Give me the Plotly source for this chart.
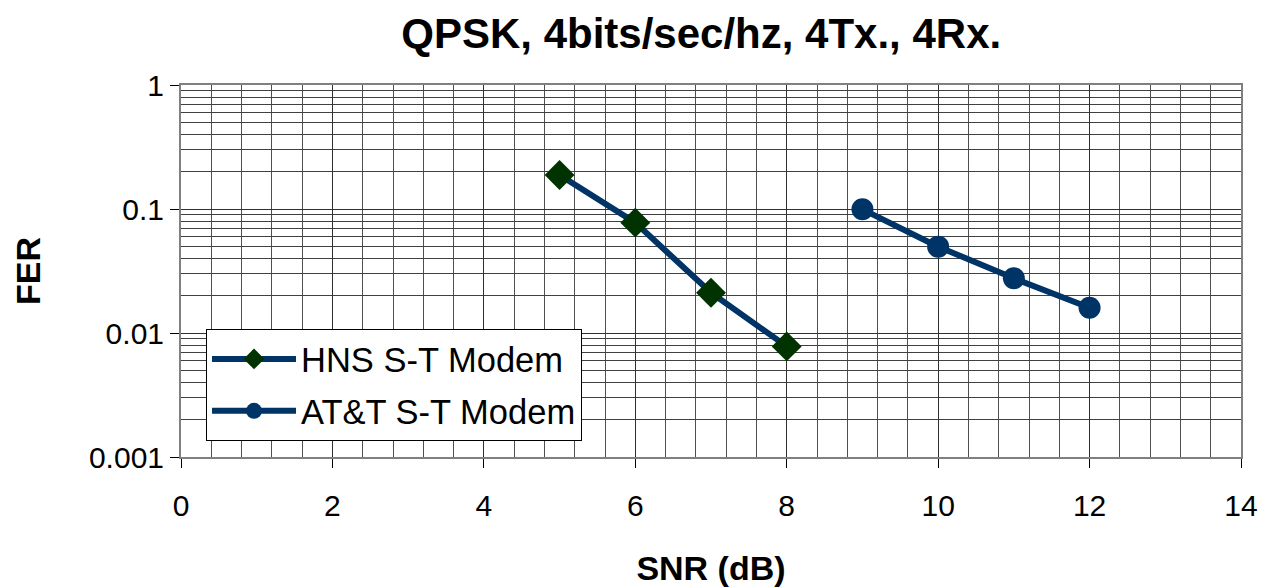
import plotly.graph_objects as go

hns_snr = [5, 6, 7, 8]
hns_fer = [0.188, 0.0776, 0.0211, 0.0078]
att_snr = [9, 10, 11, 12]
att_fer = [0.0994, 0.0497, 0.0276, 0.016]

x_ticks = [0, 2, 4, 6, 8, 10, 12, 14]
y_ticks = [1, 0.1, 0.01, 0.001]
y_tick_labels = ["1", "0.1", "0.01", "0.001"]

FONT = "Liberation Sans, Arial, sans-serif"
LINE = "#003366"

fig = go.Figure()
fig.add_trace(go.Scatter(
    x=hns_snr, y=hns_fer, mode="lines+markers", name="HNS S-T Modem",
    legendgroup="a",
    line=dict(color=LINE, width=6),
    marker=dict(symbol="diamond", size=23, color="#003300"),
))
fig.add_trace(go.Scatter(
    x=att_snr, y=att_fer, mode="lines+markers", name="AT&T S-T Modem",
    legendgroup="b",
    line=dict(color=LINE, width=6),
    marker=dict(symbol="circle", size=22, color="#003366"),
))

fig.update_layout(
    width=1265, height=580,
    margin=dict(l=173, r=32, t=77, b=131),
    paper_bgcolor="white", plot_bgcolor="white",
    font=dict(family=FONT, size=30, color="black"),
    title=dict(text="<b>QPSK, 4bits/sec/hz, 4Tx., 4Rx.</b>", x=0.548, xanchor="center",
               y=0.957, yanchor="middle", font=dict(size=42)),
    showlegend=True,
    legend=dict(x=0.0236, y=0.344, xanchor="left", yanchor="top",
                bgcolor="white", bordercolor="black", borderwidth=1,
                font=dict(size=34.5), itemwidth=84, tracegroupgap=4,
                entrywidth=305, entrywidthmode="pixels"),
)
fig.update_xaxes(
    range=[0, 14], tickvals=x_ticks, ticks="outside", ticklen=9, tickcolor="black",
    showline=True, linecolor="#808080", linewidth=2, mirror=True,
    showgrid=True, gridcolor="#303030", gridwidth=1, zeroline=False,
    minor=dict(dtick=0.4, showgrid=True, gridcolor="#505050", gridwidth=1, ticks=""),
    title=dict(text="<b>SNR (dB)</b>", font=dict(size=34), standoff=35),
    tickfont=dict(size=30), ticklabelstandoff=12, automargin=False,
)
fig.update_yaxes(
    type="log", range=[-3, 0], tickvals=y_ticks, ticktext=y_tick_labels,
    ticks="outside", ticklen=9, tickcolor="black",
    showline=True, linecolor="#808080", linewidth=2, mirror=True,
    showgrid=True, gridcolor="#303030", gridwidth=1, zeroline=False,
    minor=dict(dtick="D1", showgrid=True, gridcolor="#404040", gridwidth=1, ticks=""),
    title=dict(text="<b>FER</b>", font=dict(size=34), standoff=38),
    tickfont=dict(size=30), automargin=False,
)

fig.write_html("out.html")
